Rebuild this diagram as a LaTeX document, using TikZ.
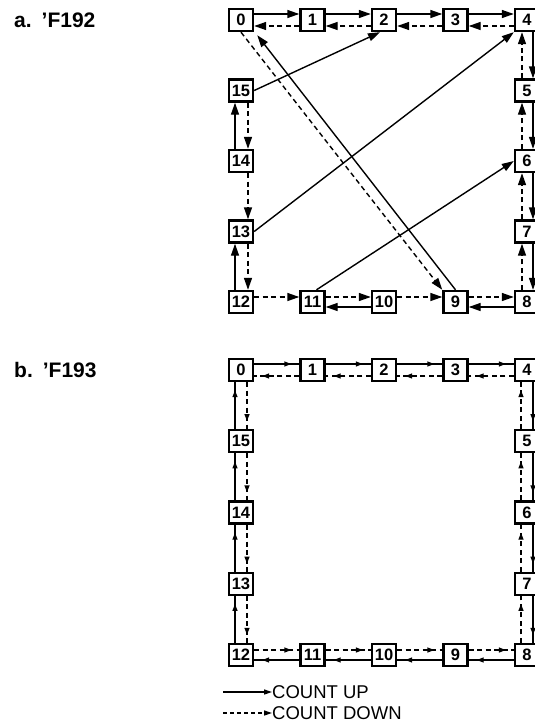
\documentclass[tikz,border=0pt]{standalone}
\usepackage{fontspec}
\setmainfont{Liberation Sans}
\usetikzlibrary{arrows.meta,decorations.markings}

\tikzset{
  cnt/.style={draw,line width=2.4pt,minimum width=24pt,minimum height=22pt,
    inner sep=0pt,font=\fontsize{16.5}{16.5}\selectfont\bfseries},
  countup/.style={line width=1.4pt,-{Triangle[length=12pt,width=8pt]}},
  countdown/.style={countup,dash pattern=on 5pt off 3.5pt},
  countupb/.style={line width=1.4pt,postaction={decorate},
    decoration={markings,mark=at position -8pt with {\arrow{Triangle[length=7pt,width=5pt]}}}},
  countdownb/.style={countupb,dash pattern=on 5pt off 3.5pt},
  partlabel/.style={font=\fontsize{21}{21}\selectfont\bfseries,anchor=west,inner sep=0pt},
  keytext/.style={font=\fontsize{18.5}{18.5}\selectfont,anchor=west,inner sep=0pt}
}

\begin{document}
\begin{tikzpicture}[x=1pt,y=-1pt]
    \useasboundingbox (0,0) rectangle (535,723);
    % counter states, a and b
    \foreach \n/\px/\py in {0/0/0,1/1/0,2/2/0,3/3/0,4/4/0,5/4/1,6/4/2,7/4/3,
        8/4/4,9/3/4,10/2/4,11/1/4,12/0/4,13/0/3,14/0/2,15/0/1}{
      \node[cnt] (a\n) at (241+71.5*\px,20+70.5*\py) {\n};
      \node[cnt] (b\n) at (241+71.5*\px,370+71.25*\py) {\n};
    }
    \node[partlabel] (la) at (14,20) {a.\hspace{10pt}'F192};
    \node[partlabel] (lb) at (14,370) {b.\hspace{10pt}'F193};

    % a. 'F192
    \foreach \i/\j in {0/1,1/2,2/3,3/4}{
      \draw[countup] ([yshift=6pt]a\i.east) -- ([yshift=6pt]a\j.west);
      \draw[countdown] ([yshift=-6pt]a\j.west) -- ([yshift=-6pt]a\i.east);
    }
    \foreach \i/\j in {4/5,5/6,6/7,7/8}{
      \draw[countup] ([xshift=6pt]a\i.south) -- ([xshift=6pt]a\j.north);
      \draw[countdown] ([xshift=-5pt]a\j.north) -- ([xshift=-5pt]a\i.south);
    }
    \draw[countdown] ([yshift=5pt]a12.east) -- ([yshift=5pt]a11.west);
    \draw[countdown] ([yshift=5pt]a11.east) -- ([yshift=5pt]a10.west);
    \draw[countup] ([yshift=-5pt]a10.west) -- ([yshift=-5pt]a11.east);
    \draw[countdown] ([yshift=5pt]a10.east) -- ([yshift=5pt]a9.west);
    \draw[countdown] ([yshift=5pt]a9.east) -- ([yshift=5pt]a8.west);
    \draw[countup] ([yshift=-5pt]a8.west) -- ([yshift=-5pt]a9.east);
    \draw[countup] ([xshift=-6pt]a12.north) -- ([xshift=-6pt]a13.south);
    \draw[countdown] ([xshift=7pt]a13.south) -- ([xshift=7pt]a12.north);
    \draw[countdown] ([xshift=7pt]a14.south) -- ([xshift=7pt]a13.north);
    \draw[countup] ([xshift=-6pt]a14.north) -- ([xshift=-6pt]a15.south);
    \draw[countdown] ([xshift=7pt]a15.south) -- ([xshift=7pt]a14.north);
    \draw[countup] (a15.east) -- ([xshift=-4pt]a2.south);
    \draw[countup] (a13.east) -- (a4.south west);
    \draw[countup] ([xshift=4pt]a11.north) -- (a6.west);
    \draw[countup] (a9.north) -- ([shift={(3pt,-3pt)}]a0.south east);
    \draw[countdown] (a0.south) -- (a9.north west);

    % b. 'F193
    \foreach \i/\j in {0/1,1/2,2/3,3/4}{
      \draw[countupb] ([yshift=6pt]b\i.east) -- ([yshift=6pt]b\j.west);
      \draw[countdownb] ([yshift=-6pt]b\j.west) -- ([yshift=-6pt]b\i.east);
    }
    \foreach \i/\j in {4/5,5/6,6/7,7/8}{
      \draw[countupb] ([xshift=6pt]b\i.south) -- ([xshift=6pt]b\j.north);
      \draw[countdownb] ([xshift=-6pt]b\j.north) -- ([xshift=-6pt]b\i.south);
    }
    \foreach \i/\j in {8/9,9/10,10/11,11/12}{
      \draw[countupb] ([yshift=-5pt]b\i.west) -- ([yshift=-5pt]b\j.east);
      \draw[countdownb] ([yshift=5pt]b\j.east) -- ([yshift=5pt]b\i.west);
    }
    \foreach \i/\j in {12/13,13/14,14/15,15/0}{
      \draw[countupb] ([xshift=-6pt]b\i.north) -- ([xshift=-6pt]b\j.south);
      \draw[countdownb] ([xshift=6pt]b\j.south) -- ([xshift=6pt]b\i.north);
    }

    % key
    \coordinate (ku0) at (223,692);
    \coordinate (kd0) at (223,713);
    \node[keytext] (ku) at (272,692) {COUNT UP};
    \node[keytext] (kd) at (272,713) {COUNT DOWN};
    \draw[line width=1.3pt,-{Triangle[length=8pt,width=5pt]}] (ku0) -- (ku.west);
    \draw[line width=1.3pt,dash pattern=on 4pt off 3pt,-{Triangle[length=8pt,width=5pt]}] (kd0) -- (kd.west);
  \end{tikzpicture}
\end{document}
